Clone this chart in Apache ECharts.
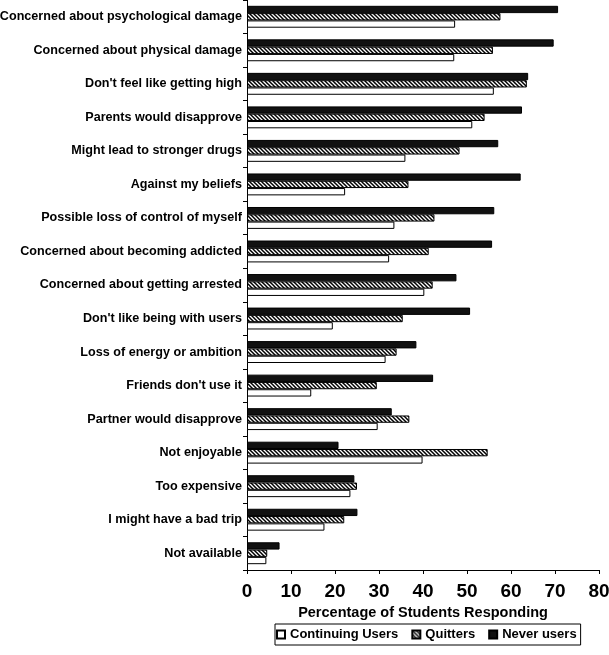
<!DOCTYPE html>
<html>
<head>
<meta charset="utf-8">
<script src="https://cdn.jsdelivr.net/npm/echarts@6/dist/echarts.min.js"></script>
<style>
html,body{margin:0;padding:0;background:#fff;}
#chart{width:609px;height:655px;}
</style>
</head>
<body>
<div id="chart"></div>
<script>
const categories = [
  "Concerned about psychological damage",
  "Concerned about physical damage",
  "Don't feel like getting high",
  "Parents would disapprove",
  "Might lead to stronger drugs",
  "Against my beliefs",
  "Possible loss of control of myself",
  "Concerned about becoming addicted",
  "Concerned about getting arrested",
  "Don't like being with users",
  "Loss of energy or ambition",
  "Friends don't use it",
  "Partner would disapprove",
  "Not enjoyable",
  "Too expensive",
  "I might have a bad trip",
  "Not available"
];
const continuingUsers = [47.3, 47.1, 56.1, 51.2, 36.0, 22.3, 33.5, 32.3, 40.3, 19.5, 31.5, 14.6, 29.7, 39.9, 23.5, 17.6, 4.4];
const quitters        = [57.6, 55.9, 63.6, 54.0, 48.3, 36.7, 42.6, 41.3, 42.2, 35.4, 34.0, 29.5, 36.9, 54.7, 25.0, 22.1, 4.6];
const neverUsers      = [70.7, 69.7, 63.9, 62.5, 57.1, 62.2, 56.2, 55.7, 47.6, 50.7, 38.5, 42.3, 32.9, 20.8, 24.4, 25.1, 7.4];
const xTicks = [0, 10, 20, 30, 40, 50, 60, 70, 80];

function makeHatch() {
  const c = document.createElement('canvas');
  const s = 4;
  c.width = s; c.height = s;
  const ctx = c.getContext('2d');
  ctx.fillStyle = '#fff';
  ctx.fillRect(0, 0, s, s);
  ctx.strokeStyle = '#000';
  ctx.lineWidth = 1.5;
  ctx.beginPath();
  ctx.moveTo(-1, -1); ctx.lineTo(s + 1, s + 1);
  ctx.moveTo(-1, s - 1); ctx.lineTo(1, s + 1);
  ctx.moveTo(s - 1, -1); ctx.lineTo(s + 1, 1);
  ctx.stroke();
  return c;
}
const hatch = { image: makeHatch(), repeat: 'repeat' };

const FONT = "'Liberation Sans', Arial, sans-serif";
const chart = echarts.init(document.getElementById('chart'), null, { renderer: 'canvas' });
chart.setOption({
  animation: false,
  backgroundColor: '#fff',
  textStyle: { fontFamily: FONT },
  grid: { left: 247, right: 10, top: 0, bottom: 85, containLabel: false, outerBoundsMode: 'none' },
  legend: {
    data: ['Continuing Users', 'Quitters', 'Never users'],
    left: 275, top: 624,
    icon: 'rect',
    itemWidth: 8, itemHeight: 8, itemGap: 13,
    padding: [4, 4, 4, 1],
    borderColor: '#000', borderWidth: 1,
    textStyle: { fontFamily: FONT, fontWeight: 'bold', fontSize: 13, color: '#000', padding: [0, 0, 0, 0] }
  },
  xAxis: {
    type: 'value', min: 0, max: 80, interval: 10,
    name: 'Percentage of Students Responding',
    nameLocation: 'middle', nameGap: 33,
    nameTextStyle: { fontFamily: FONT, fontWeight: 'bold', fontSize: 14.5, color: '#000' },
    axisLine: { show: true, lineStyle: { color: '#000', width: 1 } },
    axisTick: { show: true, length: 4, lineStyle: { color: '#000' } },
    axisLabel: {
      fontFamily: FONT, fontWeight: 'bold', fontSize: 19, color: '#000', margin: 12,
      formatter: v => xTicks.includes(v) ? String(v) : ''
    },
    splitLine: { show: false }
  },
  yAxis: {
    type: 'category', data: categories, inverse: true,
    axisLine: { show: true, lineStyle: { color: '#000', width: 1 } },
    axisTick: { show: true, length: 4, lineStyle: { color: '#000' } },
    axisLabel: { fontFamily: FONT, fontWeight: 'bold', fontSize: 12.6, color: '#000', margin: 5 }
  },
  series: [
    {
      name: 'Never users', type: 'bar', data: neverUsers,
      barWidth: 7.3, barGap: '0%',
      itemStyle: { color: '#111', borderColor: '#000', borderWidth: 1 }
    },
    {
      name: 'Quitters', type: 'bar', data: quitters,
      barWidth: 7.3, barGap: '0%',
      itemStyle: { color: hatch, borderColor: '#000', borderWidth: 1 }
    },
    {
      name: 'Continuing Users', type: 'bar', data: continuingUsers,
      barWidth: 7.3, barGap: '0%',
      itemStyle: { color: '#fff', borderColor: '#000', borderWidth: 1 }
    }
  ]
});
</script>
</body>
</html>
